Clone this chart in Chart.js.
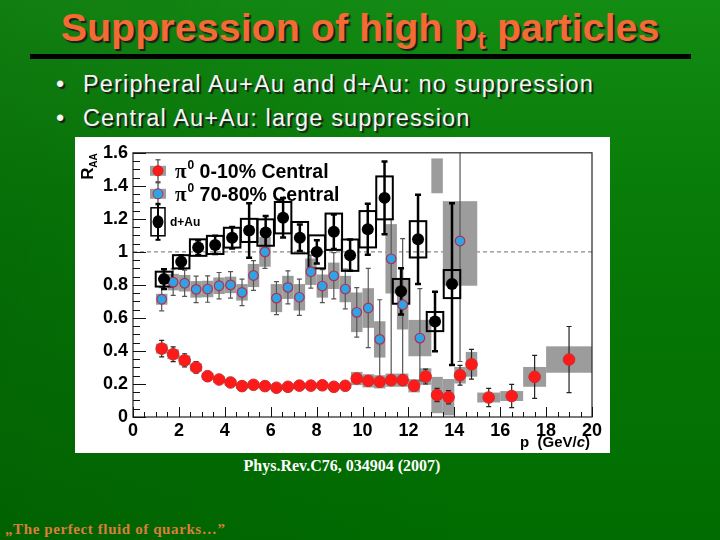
<!DOCTYPE html>
<html lang="en">
<head>
<meta charset="UTF-8">
<title>Suppression of high pt particles</title>
<script src="https://cdn.jsdelivr.net/npm/chart.js"></script>
<style>
  html, body { margin: 0; padding: 0; }
  body {
    width: 720px; height: 540px; overflow: hidden; position: relative;
    background:
      linear-gradient(to right, rgba(0, 0, 0, 0.10), rgba(0, 0, 0, 0) 65%),
      linear-gradient(to bottom, #138c13 0%, #077a07 40%, #016c01 100%);
    font-family: "Liberation Sans", Arial, sans-serif;
  }
  h1 {
    position: absolute; left: 0; top: 5px; width: 720px; margin: 0;
    text-align: center; font-size: 39.5px; font-weight: bold; color: #f26b32;
    text-shadow: 2px 2px 1px #1c1c1c;
  }
  h1 sub { font-size: 25px; vertical-align: -8px; line-height: 0; }
  .rule { position: absolute; left: 30px; top: 54px; width: 661px; height: 5px; background: #000; }
  ul {
    position: absolute; left: 56px; top: 69px; margin: 0; padding: 0; list-style: none;
    color: #f6f6f6; font-size: 23.5px; letter-spacing: 1.15px; text-shadow: 2px 2px 1px #1a1a1a;
  }
  li { height: 34px; line-height: 30px; }
  li:before { content: "\2022"; display: inline-block; width: 27px; letter-spacing: 0; }
  #panel { position: absolute; left: 75px; top: 137px; width: 535px; height: 316px; background: #fff; }
  .cite {
    position: absolute; top: 457px; left: 0; width: 684px; text-align: center;
    color: #fff; font: bold 16px "Liberation Serif", "Times New Roman", serif;
  }
  .foot {
    position: absolute; left: 5px; top: 521px; color: #dc7d3c; letter-spacing: 0.6px;
    font: bold 15px "Liberation Serif", "Times New Roman", serif;
  }
</style>
</head>
<body>
  <h1>Suppression of high p<sub>t</sub> particles</h1>
  <div class="rule"></div>
  <ul>
    <li>Peripheral Au+Au and d+Au: no suppression</li>
    <li>Central Au+Au: large suppression</li>
  </ul>
  <div id="panel"><canvas id="raa"></canvas></div>
  <div class="cite">Phys.Rev.C76, 034904 (2007)</div>
  <div class="foot">„The perfect fluid of quarks…”</div>

<script>
// pi0, 0-10% central Au+Au
const redX    = [1.25, 1.75, 2.25, 2.75, 3.25, 3.75, 4.25, 4.75, 5.25, 5.75, 6.25, 6.75, 7.25, 7.75, 8.25, 8.75,
                 9.25, 9.75, 10.25, 10.75, 11.25, 11.75, 12.25, 12.75, 13.25, 13.75, 14.25, 14.75, 15.5, 16.5, 17.5, 19];
const redY    = [0.414, 0.38, 0.343, 0.30, 0.247, 0.227, 0.209, 0.187, 0.195, 0.187, 0.177, 0.183, 0.19, 0.19, 0.192, 0.183,
                 0.189, 0.233, 0.219, 0.213, 0.223, 0.223, 0.189, 0.245, 0.133, 0.12, 0.253, 0.319, 0.118, 0.127, 0.243, 0.348];
const redErr  = [0.05, 0.045, 0.04, 0.035, 0.03, 0.02, 0.015, 0.015, 0.015, 0.015, 0.015, 0.015, 0.015, 0.015, 0.015, 0.015,
                 0.015, 0.02, 0.02, 0.02, 0.025, 0.03, 0.03, 0.045, 0.04, 0.04, 0.06, 0.09, 0.055, 0.07, 0.13, 0.2];
const redSys  = [0.03, 0.03, 0.03, 0.025, 0.02, 0.02, 0.02, 0.015, 0.015, 0.015, 0.015, 0.015, 0.015, 0.015, 0.015, 0.015,
                 0.015, 0.04, 0.04, 0.04, 0.04, 0.04, 0.04, 0.05, 0.11, 0.11, 0.05, 0.075, 0.03, 0.03, 0.06, 0.08];
const redBin  = [0.25, 0.25, 0.25, 0.25, 0.25, 0.25, 0.25, 0.25, 0.25, 0.25, 0.25, 0.25, 0.25, 0.25, 0.25, 0.25,
                 0.25, 0.25, 0.25, 0.25, 0.25, 0.25, 0.25, 0.25, 0.25, 0.25, 0.25, 0.25, 0.5, 0.5, 0.5, 1.0];

// pi0, 70-80% Au+Au
const blueX     = [1.25, 1.75, 2.25, 2.75, 3.25, 3.75, 4.25, 4.75, 5.25, 5.75, 6.25, 6.75, 7.25, 7.75, 8.25, 8.75,
                   9.25, 9.75, 10.25, 10.75, 11.25, 11.75, 12.5, 13.25, 14.25];
const blueY     = [0.713, 0.817, 0.81, 0.773, 0.775, 0.795, 0.80, 0.755, 0.857, 1.0, 0.72, 0.785, 0.725, 0.88, 0.793, 0.855,
                   0.775, 0.634, 0.66, 0.47, 0.958, 0.68, 0.478, null, 1.066];
const blueErrUp = [0.07, 0.08, 0.08, 0.08, 0.08, 0.08, 0.08, 0.08, 0.09, 0.1, 0.1, 0.1, 0.11, 0.1, 0.1, 0.14,
                   0.12, 0.15, 0.24, 0.24, 0.24, 0.4, 0.3, null, 0.6];
const blueErrDn = [0.07, 0.08, 0.08, 0.08, 0.08, 0.08, 0.08, 0.08, 0.09, 0.1, 0.1, 0.1, 0.11, 0.1, 0.1, 0.14,
                   0.12, 0.15, 0.24, 0.24, 0.72, 0.46, 0.26, null, 0.73];
const blueBoxLo = [0.68, 0.767, 0.76, 0.723, 0.725, 0.745, 0.75, 0.705, 0.787, 0.91, 0.635, 0.715, 0.645, 0.80, 0.723, 0.775,
                   0.695, 0.514, 0.54, 0.36, 0.748, 0.53, 0.368, 1.355, 0.795];
const blueBoxHi = [0.746, 0.867, 0.86, 0.823, 0.825, 0.845, 0.85, 0.805, 0.927, 1.09, 0.805, 0.855, 0.805, 0.96, 0.863, 0.935,
                   0.855, 0.754, 0.78, 0.58, 1.168, 0.83, 0.588, 1.566, 1.307];
const blueBin   = [0.25, 0.25, 0.25, 0.25, 0.25, 0.25, 0.25, 0.25, 0.25, 0.25, 0.25, 0.25, 0.25, 0.25, 0.25, 0.25,
                   0.25, 0.25, 0.25, 0.25, 0.25, 0.25, 0.5, 0.25, 0.75];

// d+Au
const dauX   = [1.35, 2.1, 2.84, 3.58, 4.32, 5.06, 5.78, 6.54, 7.27, 8.01, 8.75, 9.46, 10.23, 10.96, 11.68, 12.42, 13.16, 13.9];
const dauY   = [0.835, 0.94, 1.026, 1.042, 1.086, 1.13, 1.117, 1.207, 1.086, 1.0, 1.122, 0.98, 1.137, 1.327, 0.761, 1.076, 0.578, 0.805];
const dauErr = [0.06, 0.04, 0.045, 0.055, 0.065, 0.165, 0.1, 0.12, 0.08, 0.07, 0.105, 0.095, 0.155, 0.22, 0.14, 0.27, 0.18, 0.49];
const dauSys = [0.045, 0.04, 0.05, 0.055, 0.06, 0.07, 0.08, 0.095, 0.095, 0.1, 0.11, 0.095, 0.11, 0.13, 0.075, 0.11, 0.058, 0.085];
const dauBin = 0.36;

const xTicks = [0, 2, 4, 6, 8, 10, 12, 14, 16, 18, 20];
const yTicks = [0, 0.2, 0.4, 0.6, 0.8, 1, 1.2, 1.4, 1.6];

const GREY = '#9c9c9c';

function seg(ctx, x1, y1, x2, y2) {
  ctx.beginPath(); ctx.moveTo(x1, y1); ctx.lineTo(x2, y2); ctx.stroke();
}
function errBar(ctx, px, top, bot, cap) {
  seg(ctx, px, top, px, bot);
  seg(ctx, px - cap, top, px + cap, top);
  seg(ctx, px - cap, bot, px + cap, bot);
}

const decor = {
  id: 'decor',
  beforeDatasetsDraw(chart) {
    const { ctx, chartArea: a, scales: { x, y } } = chart;
    ctx.save();
    ctx.beginPath(); ctx.rect(a.left, a.top, a.width, a.height); ctx.clip();

    // R_AA = 1 reference
    ctx.strokeStyle = '#8a8a8a'; ctx.lineWidth = 1.3; ctx.setLineDash([4, 3]);
    seg(ctx, a.left, y.getPixelForValue(1), a.right, y.getPixelForValue(1));
    ctx.setLineDash([]);

    // systematic boxes
    ctx.fillStyle = GREY;
    blueX.forEach((v, i) => {
      const l = x.getPixelForValue(v - blueBin[i]), r = x.getPixelForValue(v + blueBin[i]);
      const t = y.getPixelForValue(blueBoxHi[i]), b = y.getPixelForValue(blueBoxLo[i]);
      ctx.fillRect(l, t, r - l, b - t);
    });
    redX.forEach((v, i) => {
      const l = x.getPixelForValue(v - redBin[i]), r = x.getPixelForValue(v + redBin[i]);
      const t = y.getPixelForValue(redY[i] + redSys[i]), b = y.getPixelForValue(redY[i] - redSys[i]);
      ctx.fillRect(l, t, r - l, b - t);
    });

    // error bars: pi0
    ctx.lineWidth = 1.2; ctx.strokeStyle = '#555';
    blueX.forEach((v, i) => {
      if (blueY[i] === null) return;
      errBar(ctx, x.getPixelForValue(v), y.getPixelForValue(blueY[i] + blueErrUp[i]),
             y.getPixelForValue(blueY[i] - blueErrDn[i]), 2.5);
    });
    ctx.strokeStyle = '#222';
    redX.forEach((v, i) => {
      errBar(ctx, x.getPixelForValue(v), y.getPixelForValue(redY[i] + redErr[i]),
             y.getPixelForValue(redY[i] - redErr[i]), 2.5);
    });

    // d+Au systematic outlines + error bars
    ctx.strokeStyle = '#000'; ctx.lineWidth = 2;
    dauX.forEach((v, i) => {
      const l = x.getPixelForValue(v - dauBin), r = x.getPixelForValue(v + dauBin);
      const t = y.getPixelForValue(dauY[i] + dauSys[i]), b = y.getPixelForValue(dauY[i] - dauSys[i]);
      ctx.strokeRect(l, t, r - l, b - t);
    });
    ctx.lineWidth = 2.5;
    dauX.forEach((v, i) => {
      errBar(ctx, x.getPixelForValue(v), y.getPixelForValue(dauY[i] + dauErr[i]),
             y.getPixelForValue(dauY[i] - dauErr[i]), 3);
    });
    ctx.restore();
  },
  afterDraw(chart) {
    const { ctx, chartArea: a, scales: { x, y } } = chart;
    ctx.save();
    // frame
    ctx.strokeStyle = '#333'; ctx.lineWidth = 1.3;
    ctx.strokeRect(a.left, a.top, a.right - a.left, a.bottom - a.top);
    // ticks, ROOT style (inside)
    ctx.strokeStyle = '#111'; ctx.lineWidth = 1;
    for (let k = 0; k <= 32; k++) {
      const py = Math.round(y.getPixelForValue(k * 0.05)) + 0.5;
      seg(ctx, a.left, py, a.left + (k % 4 === 0 ? 13 : 7), py);
    }
    for (let k = 0; k <= 40; k++) {
      const px = Math.round(x.getPixelForValue(k * 0.5)) + 0.5;
      seg(ctx, px, a.bottom, px, a.bottom - (k % 4 === 0 ? 10 : 5));
    }

    // axis titles
    ctx.fillStyle = '#000';
    ctx.save();
    ctx.translate(a.left - 40, a.top + 27);
    ctx.rotate(-Math.PI / 2);
    ctx.font = 'bold 17px "Liberation Sans", Arial';
    ctx.textBaseline = 'alphabetic';
    ctx.fillText('R', 0, 0);
    ctx.font = 'bold 10px "Liberation Sans", Arial';
    ctx.fillText('AA', 12, 4);
    ctx.restore();

    ctx.textBaseline = 'alphabetic';
    const xr = a.right - 2, by = a.bottom + 30;
    const p1 = 'p  (GeV/', p2 = 'c', p3 = ')';
    ctx.font = 'bold 15px "Liberation Sans", Arial';
    const w3 = ctx.measureText(p3).width;
    const w1 = ctx.measureText(p1).width;
    ctx.font = 'italic bold 15px "Liberation Sans", Arial';
    const w2 = ctx.measureText(p2).width;
    let cx = xr - w1 - w2 - w3;
    ctx.font = 'bold 15px "Liberation Sans", Arial';
    ctx.fillText(p1, cx, by); cx += w1;
    ctx.font = 'italic bold 15px "Liberation Sans", Arial';
    ctx.fillText(p2, cx, by); cx += w2;
    ctx.font = 'bold 15px "Liberation Sans", Arial';
    ctx.fillText(p3, cx, by);

    // legend
    const lx = a.left + 25;
    const rows = [
      { cy: a.top + 18, fill: '#ff1a1a', edge: '#cc2222', lab: ' 0-10% Central' },
      { cy: a.top + 41, fill: '#2fa3e6', edge: '#b03050', lab: ' 70-80% Central' }
    ];
    rows.forEach(r => {
      ctx.fillStyle = GREY; ctx.fillRect(lx - 8, r.cy - 5, 16, 10);
      ctx.strokeStyle = '#444'; ctx.lineWidth = 1.2;
      errBar(ctx, lx, r.cy - 11, r.cy + 11, 2.5);
      ctx.beginPath(); ctx.arc(lx, r.cy, 5, 0, Math.PI * 2);
      ctx.fillStyle = r.fill; ctx.fill(); ctx.strokeStyle = r.edge; ctx.lineWidth = 1; ctx.stroke();
      ctx.fillStyle = '#000';
      let tx = lx + 17;
      ctx.font = 'bold 21px "Liberation Serif", serif';
      ctx.fillText('π', tx, r.cy + 7); tx += ctx.measureText('π').width + 1;
      ctx.font = 'bold 12px "Liberation Sans", Arial';
      ctx.fillText('0', tx, r.cy - 2); tx += ctx.measureText('0').width;
      ctx.font = 'bold 19.5px "Liberation Sans", Arial';
      ctx.fillText(r.lab, tx, r.cy + 7);
    });
    const dy = a.top + 69;
    ctx.strokeStyle = '#000'; ctx.lineWidth = 1.5;
    ctx.strokeRect(lx - 7, dy - 14, 14, 28);
    ctx.lineWidth = 2; errBar(ctx, lx, dy - 18, dy + 18, 2.5);
    ctx.fillStyle = '#000';
    ctx.beginPath(); ctx.ellipse(lx, dy, 5.5, 6.5, 0, 0, Math.PI * 2); ctx.fill();
    ctx.font = 'bold 12px "Liberation Sans", Arial';
    ctx.fillText('d+Au', lx + 12, dy + 4);
    ctx.restore();
  }
};

const tickFont = { family: '"Liberation Sans", Arial', size: 18, weight: 'bold' };

new Chart(document.getElementById('raa'), {
  type: 'scatter',
  data: {
    datasets: [
      {
        label: 'd+Au',
        data: dauX.map((v, i) => ({ x: v, y: dauY[i] })),
        pointRadius: 6, pointStyle: 'circle',
        backgroundColor: '#000', borderColor: '#000', borderWidth: 0
      },
      {
        label: 'π0 70-80% Central',
        data: blueX.map((v, i) => ({ x: v, y: blueY[i] })),
        pointRadius: 4.8,
        backgroundColor: '#2fa3e6', borderColor: '#b03050', borderWidth: 1.2
      },
      {
        label: 'π0 0-10% Central',
        data: redX.map((v, i) => ({ x: v, y: redY[i] })),
        pointRadius: 5.8,
        backgroundColor: '#ff1a1a', borderColor: '#d02a2a', borderWidth: 1
      }
    ]
  },
  options: {
    responsive: true,
    maintainAspectRatio: false,
    animation: false,
    layout: { padding: { top: 15, right: 18, left: 0, bottom: 0 } },
    plugins: { legend: { display: false }, tooltip: { enabled: false } },
    scales: {
      x: {
        type: 'linear', min: 0, max: 20,
        afterBuildTicks: s => { s.ticks = xTicks.map(v => ({ value: v })); },
        afterFit: s => { s.height = 36; },
        grid: { display: false, drawTicks: false },
        border: { display: false },
        ticks: { autoSkip: false, maxRotation: 0, padding: 3, color: '#000', font: tickFont,
                 callback: v => String(v) }
      },
      y: {
        type: 'linear', min: 0, max: 1.6,
        afterBuildTicks: s => { s.ticks = yTicks.map(v => ({ value: v })); },
        afterFit: s => { s.width = 58; },
        grid: { display: false, drawTicks: false },
        border: { display: false },
        ticks: { padding: 5, color: '#000', font: tickFont,
                 callback: v => String(Math.round(v * 10) / 10) }
      }
    }
  },
  plugins: [decor]
});
</script>
</body>
</html>
